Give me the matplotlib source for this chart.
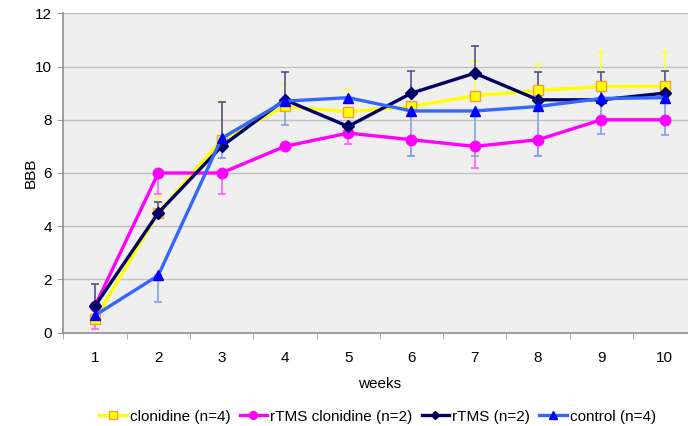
import numpy as np
import matplotlib.pyplot as plt

plt.rcParams['font.family'] = ['Liberation Sans', 'DejaVu Sans']
plt.rcParams['font.size'] = 11

weeks = [1, 2, 3, 4, 5, 6, 7, 8, 9, 10]

# group means (BBB score)
clonidine = [0.5, 4.5, 7.25, 8.5, 8.3, 8.5, 8.9, 9.1, 9.25, 9.25]
rtms_clonidine = [1.0, 6.0, 6.0, 7.0, 7.5, 7.25, 7.0, 7.25, 8.0, 8.0]
rtms = [1.0, 4.5, 7.0, 8.75, 7.75, 9.0, 9.75, 8.75, 8.75, 9.0]
control = [0.65, 2.15, 7.3, 8.7, 8.83, 8.33, 8.33, 8.5, 8.8, 8.83]

# one-sided error bars (upper for clonidine/rTMS, lower for the others)
clonidine_err = [0.35, 0.6, 1.45, 0.85, 0.8, 0.0, 1.3, 1.0, 1.3, 1.3]
rtms_clonidine_err = [0.85, 0.8, 0.8, 0.0, 0.4, 0.6, 0.8, 0.6, 0.0, 0.0]
rtms_err = [0.82, 0.42, 1.65, 1.05, 0.0, 0.83, 1.03, 1.05, 1.05, 0.83]
control_err = [0.0, 1.0, 0.75, 0.9, 0.0, 1.7, 1.7, 1.85, 1.35, 1.4]

labels = ["clonidine (n=4)", "rTMS clonidine (n=2)", "rTMS (n=2)", "control (n=4)"]

fig = plt.figure(figsize=(6.88, 4.26), dpi=100)
ax = fig.add_axes([63.3 / 688, (426 - 332.7) / 426, 633 / 688, 319.4 / 426])
ax.set_facecolor("#EFEFEF")

x = np.array(weeks)
zeros = np.zeros(len(weeks))

series = [
    (clonidine, [zeros, clonidine_err], "#FFFF00", "s", "#FFFF00", "#F0A030", 7, "#FFFF40"),
    (rtms_clonidine, [rtms_clonidine_err, zeros], "#FF00FF", "o", "#FF00FF", "#FF00FF", 7.5, "#FF60FF"),
    (rtms, [zeros, rtms_err], "#000066", "D", "#000066", "#000066", 6, "#505090"),
    (control, [control_err, zeros], "#3366FF", "^", "#0000FF", "#0000FF", 7.5, "#80A0F0"),
]

handles = []
for (vals, err, col, mk, mfc, mec, ms, ecol), lab in zip(series, labels):
    ax.errorbar(x, vals, yerr=err, fmt="none", ecolor=ecol, elinewidth=1.2,
                capsize=3, capthick=1.2, zorder=2)
    h, = ax.plot(x, vals, color=col, lw=2.4, marker=mk, markersize=ms,
                 markerfacecolor=mfc, markeredgecolor=mec, markeredgewidth=1,
                 label=lab, zorder=3)
    handles.append(h)

ax.set_xlim(0.5, 10.5)
ax.set_ylim(0, 12)
ax.set_yticks(range(0, 13, 2))
ax.set_xticks(weeks)
ax.set_xticks(np.arange(0.5, 11, 1), minor=True)
ax.tick_params(axis="x", which="major", length=0, pad=13)
ax.tick_params(axis="x", which="minor", length=4, color="#A0A0A0")
ax.tick_params(axis="y", length=4, color="#A0A0A0", pad=4)
ax.grid(axis="y", color="#C0C0C0", lw=1)
ax.set_axisbelow(True)
for side in ["top", "right"]:
    ax.spines[side].set_visible(False)
for side in ["left", "bottom"]:
    ax.spines[side].set_color("#909090")
    ax.spines[side].set_linewidth(1.2)

ax.set_xlabel("weeks", labelpad=9)
ax.set_ylabel("BBB", labelpad=-2)

fig.legend(handles=handles, loc="center", bbox_to_anchor=(377.5 / 688, 1 - 416.5 / 426),
           ncol=4, frameon=False, handlelength=1.8, handletextpad=0.2,
           columnspacing=0.6, markerscale=0.75, fontsize=11)

fig.savefig("out.png", dpi=100)
